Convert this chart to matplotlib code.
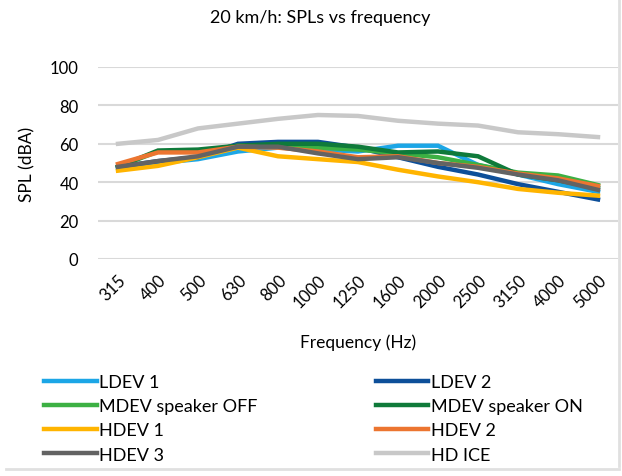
#!/usr/bin/env python3

import matplotlib
matplotlib.use('Agg')
import matplotlib.pyplot as plt
import numpy as np

freqs = ['315', '400', '500', '630', '800', '1000', '1250', '1600', '2000', '2500', '3150', '4000', '5000']

ldev_1 = [47, 50, 52, 56, 58, 57, 56, 59, 59, 49, 44, 39, 35]
ldev_2 = [48, 51, 53, 60, 61, 61, 58, 53, 48, 44, 39, 35, 31]
mdev_off = [48, 56, 56, 59, 59, 58, 57, 55, 53, 49, 45, 43.5, 38.5]
mdev_on = [48, 56.5, 57, 59, 60, 60, 58.5, 55.5, 56, 53.5, 44, 41, 37]
hdev_1 = [46, 48.5, 53, 58, 53.5, 52, 50.5, 46.5, 43, 40, 36.5, 34.5, 33]
hdev_2 = [49.5, 55.5, 55.5, 58.5, 58, 56, 53, 53.5, 50, 48, 44.5, 42, 38]
hdev_3 = [48, 51, 53.5, 58.5, 58.5, 55, 52, 53, 50, 47.5, 44, 41, 36]
hd_ice = [60, 62, 68, 70.5, 73, 75, 74.5, 72, 70.5, 69.5, 66, 65, 63.5]

series_names = ['LDEV 1', 'LDEV 2', 'MDEV speaker OFF', 'MDEV speaker ON',
                'HDEV 1', 'HDEV 2', 'HDEV 3', 'HD ICE']
series_data = [ldev_1, ldev_2, mdev_off, mdev_on, hdev_1, hdev_2, hdev_3, hd_ice]
series_colors = ['#1ca6e6', '#0d4f99', '#3cb043', '#0f7a3a',
                 '#ffb400', '#ec7530', '#636363', '#c8c8c8']

plt.rcParams['font.family'] = ['Lato', 'DejaVu Sans']

fig = plt.figure(figsize=(6.22, 4.77), dpi=100)
ax = fig.add_axes([98 / 622, 1 - 260 / 477, 520 / 622, 192 / 477])

x = np.arange(len(freqs))
# draw HD ICE first so it sits behind the others like in the original
order = [7, 0, 1, 2, 3, 4, 5, 6]
lines = {}
for i in order:
    ln, = ax.plot(x, series_data[i], color=series_colors[i], linewidth=3.2,
                  solid_joinstyle='miter', label=series_names[i])
    lines[i] = ln

ax.set_xlim(-0.5, len(freqs) - 0.5)
ax.set_ylim(0, 100)
ax.set_yticks(np.arange(0, 101, 20))
ax.set_xticks(x)
ax.set_xticklabels(freqs, rotation=45, ha='right', rotation_mode='anchor')
ax.grid(axis='y', color='#d9d9d9', linewidth=1.5)
ax.set_axisbelow(True)
for s in ax.spines.values():
    s.set_visible(False)
ax.tick_params(axis='both', length=0, labelsize=12, colors='black')
ax.tick_params(axis='x', pad=9)
ax.tick_params(axis='y', pad=14)

fig.text(0.515, 1 - 18 / 477, '20 km/h: SPLs vs frequency', fontsize=13,
         ha='center', va='center')
ax.set_ylabel('SPL (dBA)', fontsize=12.5, labelpad=10)
ax.set_xlabel('Frequency (Hz)', fontsize=12.5, labelpad=17)

# legend filled column-wise, so reorder to read row by row like the original
leg_order = [0, 2, 4, 6, 1, 3, 5, 7]
handles = [lines[i] for i in leg_order]
labels = [series_names[i] for i in leg_order]
leg = fig.legend(handles, labels, loc='upper left', ncol=2,
                 bbox_to_anchor=(28 / 622, 1 - 359 / 477), frameon=False,
                 fontsize=13, handlelength=2.9, handletextpad=0.15,
                 columnspacing=6.55, labelspacing=0.45)

# light frame/shadow around the chart
fig.add_artist(plt.Line2D([619 / 622, 619 / 622], [0.02, 1], color='#e0e0e0',
                          linewidth=2, transform=fig.transFigure))
fig.add_artist(plt.Line2D([0.01, 619 / 622], [1 - 470 / 477, 1 - 470 / 477],
                          color='#e0e0e0', linewidth=2, transform=fig.transFigure))

fig.savefig('out.png', dpi=100)
